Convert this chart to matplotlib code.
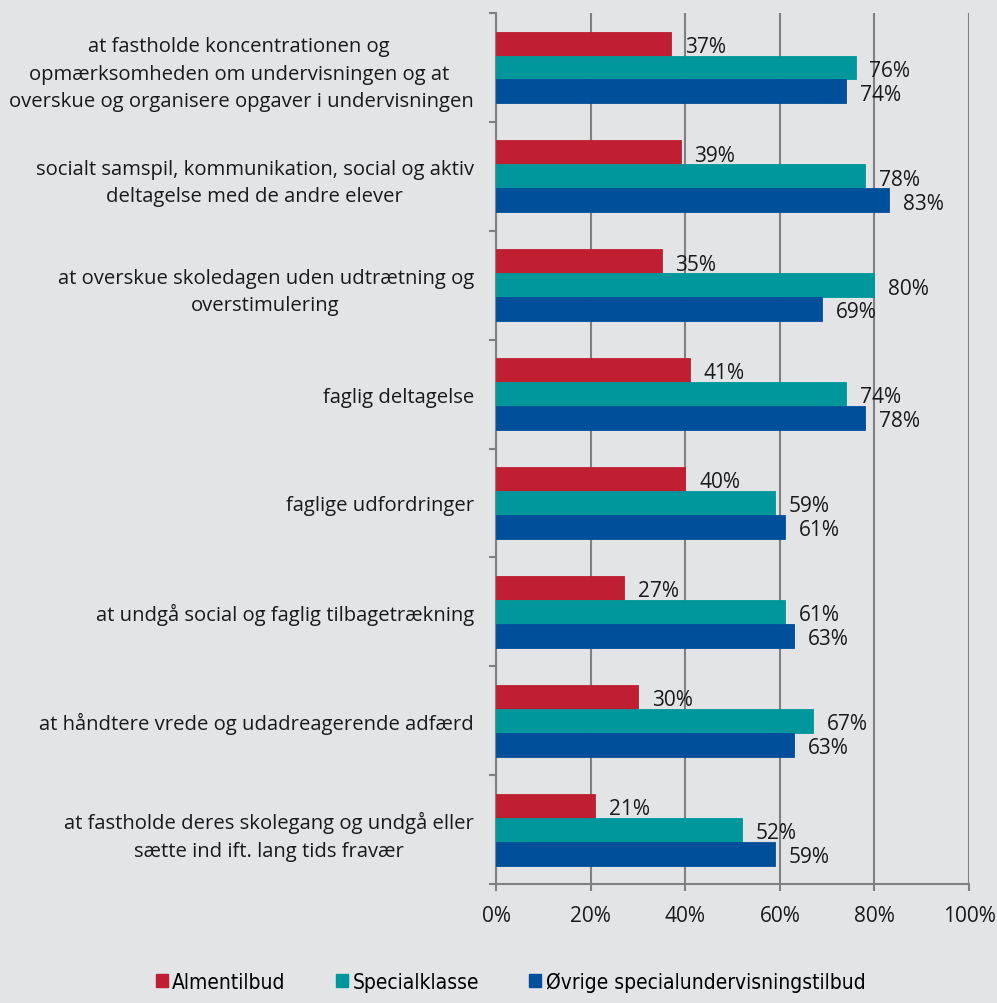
import numpy as np
import matplotlib.pyplot as plt
from matplotlib.patches import Patch

categories = [
    "at fastholde koncentrationen og \nopmærksomheden om undervisningen og at \noverskue og organisere opgaver i undervisningen",
    "socialt samspil, kommunikation, social og aktiv\ndeltagelse med de andre elever",
    "at overskue skoledagen uden udtrætning og\noverstimulering",
    "faglig deltagelse",
    "faglige udfordringer",
    "at undgå social og faglig tilbagetrækning",
    "at håndtere vrede og udadreagerende adfærd",
    "at fastholde deres skolegang og undgå eller\nsætte ind ift. lang tids fravær",
]
series_names = ["Almentilbud", "Specialklasse", "Øvrige specialundervisningstilbud"]
almen = [37, 39, 35, 41, 40, 27, 30, 21]
special = [76, 78, 80, 74, 59, 61, 67, 52]
oevrige = [74, 83, 69, 78, 61, 63, 63, 59]
x_ticks = [0, 20, 40, 60, 80, 100]

colors = ["#C01F32", "#00979C", "#004F9A"]
bg = "#E3E4E6"
grid_c = "#808080"

plt.rcParams['font.family'] = ['Open Sans', 'DejaVu Sans']

fig = plt.figure(figsize=(9.97, 10.04), dpi=100, facecolor=bg)
ax = fig.add_axes([0.4975, 0.1185, 0.4745, 0.8675], facecolor=bg)

y = np.arange(len(categories))
h = 0.22
for k, (vals, c) in enumerate(zip([almen, special, oevrige], colors)):
    pos = y + (k - 1) * h
    ax.barh(pos, vals, height=h, color=c, edgecolor=c, linewidth=0.6, zorder=3)
    for p, v in zip(pos, vals):
        ax.annotate(f"{v}%", (v, p), xytext=(10, -2), textcoords="offset points",
                    ha="left", va="center", fontsize=15, color="#1a1a1a", zorder=4)

ax.set_xlim(0, 100)
ax.set_ylim(len(categories) - 0.5, -0.5)
ax.set_xticks(x_ticks)
ax.set_xticklabels([f"{t}%" for t in x_ticks], fontsize=15, color="#1a1a1a")
ax.tick_params(axis="x", length=5, width=1.5, color=grid_c, pad=10)

ax.set_yticks(np.arange(-0.5, len(categories), 1.0))
ax.set_yticklabels([])
ax.tick_params(axis="y", length=5, width=1.5, color=grid_c)
ax.set_yticks(y, minor=True)
ax.set_yticklabels(categories, minor=True, fontsize=14.6, color="#1a1a1a",
                   multialignment="center", linespacing=1.5)
ax.tick_params(axis="y", which="minor", length=0, pad=16)

ax.grid(axis="x", color=grid_c, linewidth=1.5, zorder=0)
for s in ["top", "right"]:
    ax.spines[s].set_visible(False)
for s in ["left", "bottom"]:
    ax.spines[s].set_color(grid_c)
    ax.spines[s].set_linewidth(1.5)

handles = [Patch(facecolor=c, edgecolor=c) for c in colors]
fig.legend(handles, series_names, loc="center", bbox_to_anchor=(0.512, 0.021),
           ncol=3, frameon=False, handlelength=0.6, handleheight=0.6,
           handletextpad=0.2, columnspacing=2.4,
           prop={"family": "DejaVu Sans", "stretch": "condensed", "size": 15})

fig.savefig("out.png", dpi=100, facecolor=bg)
